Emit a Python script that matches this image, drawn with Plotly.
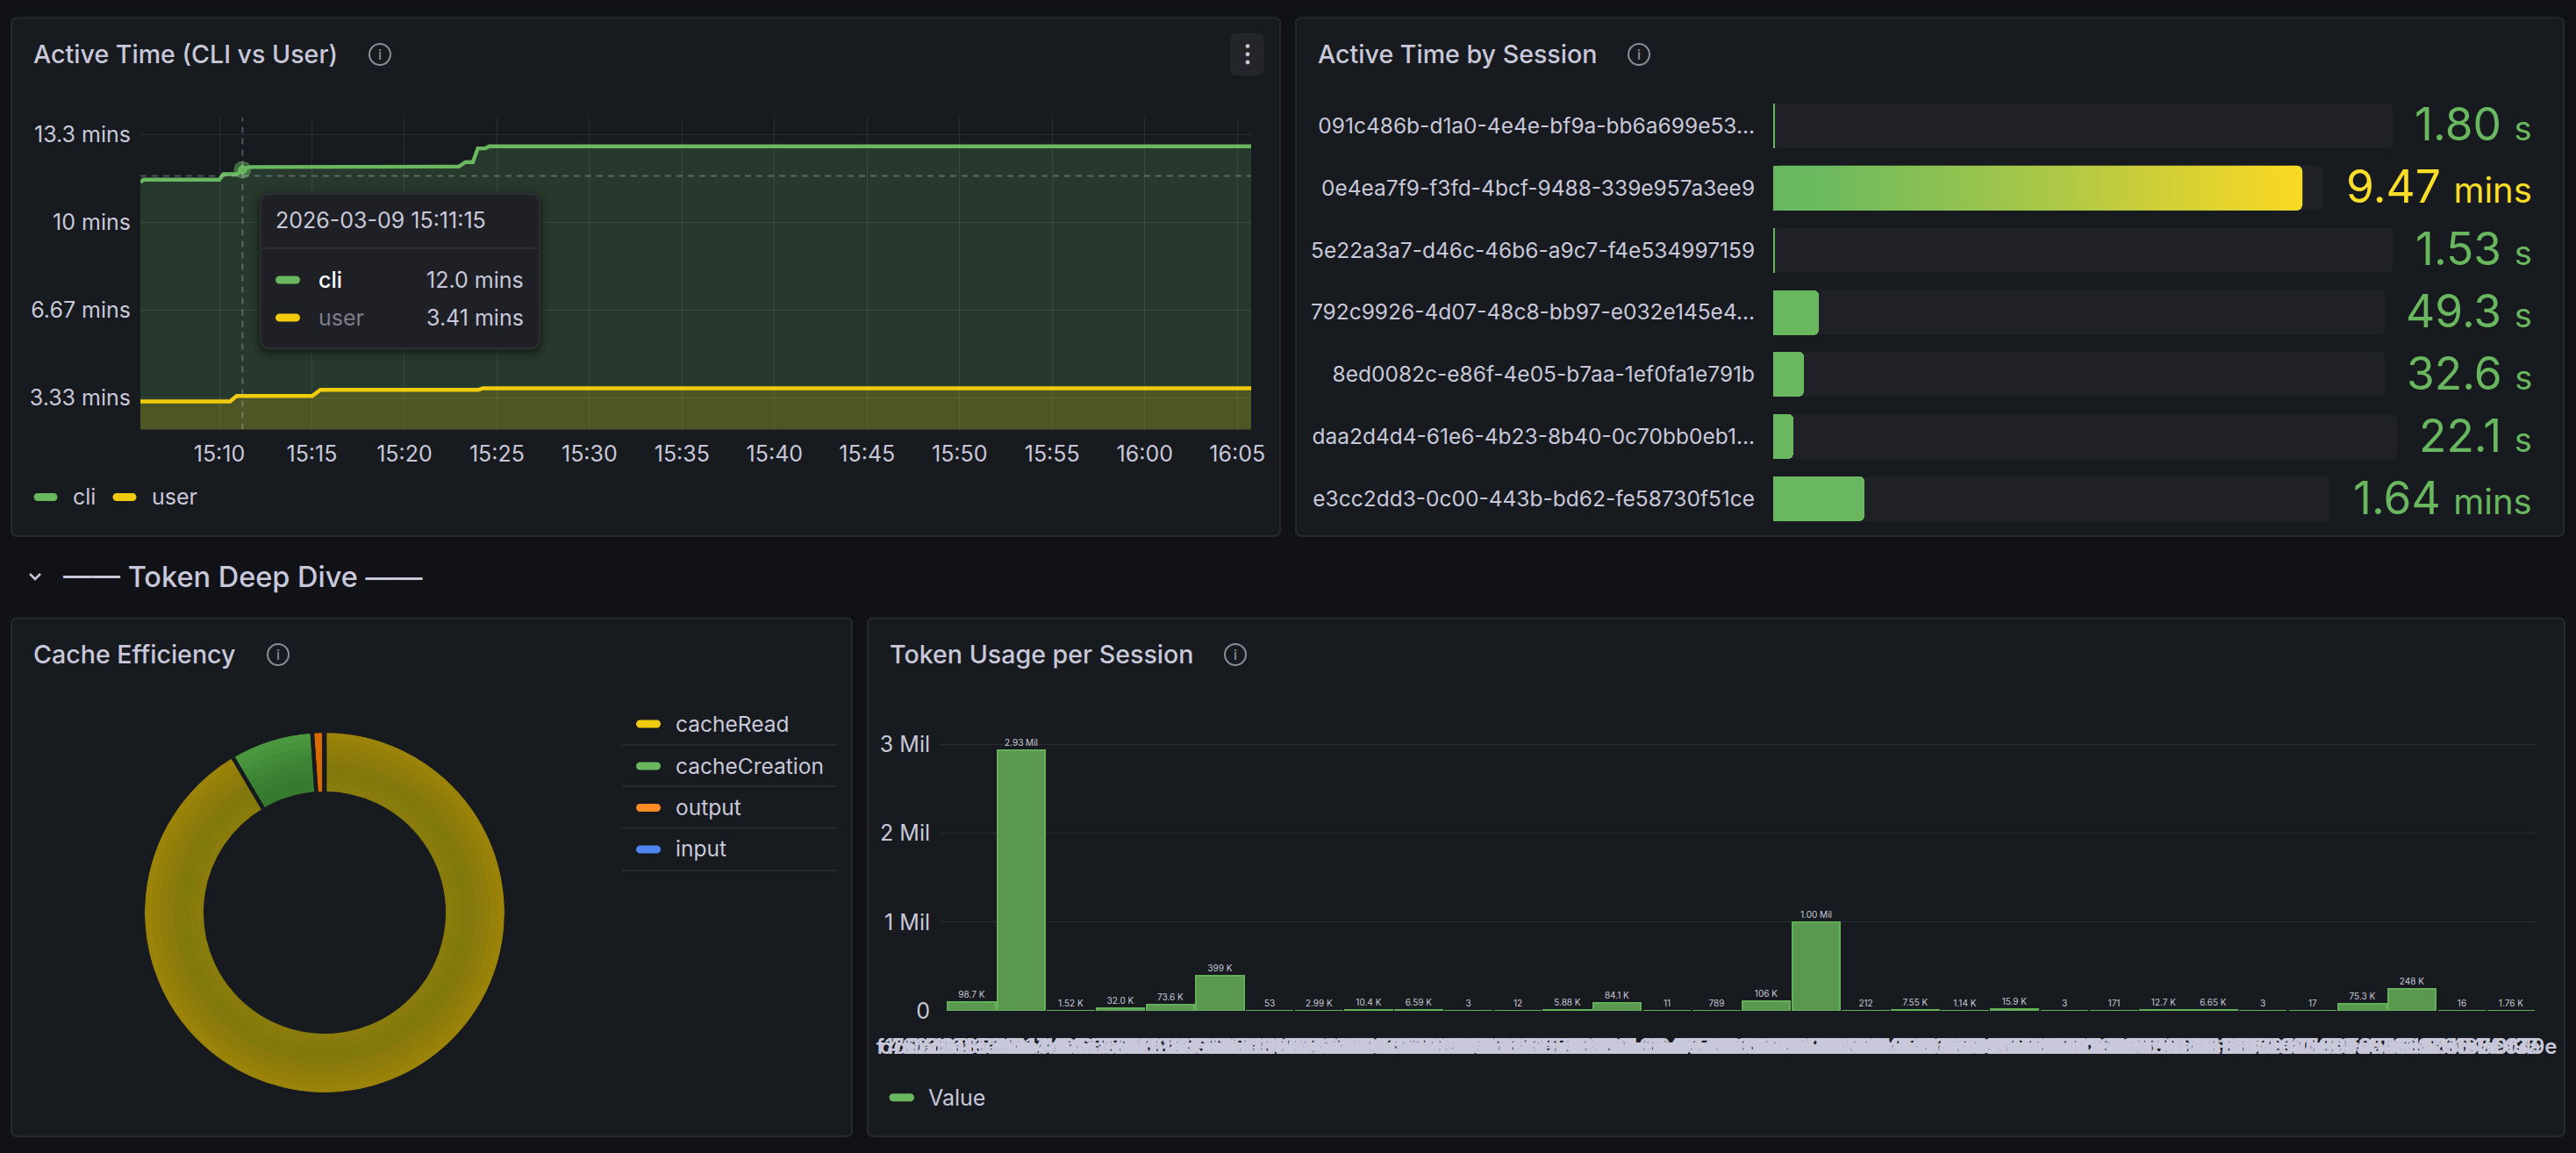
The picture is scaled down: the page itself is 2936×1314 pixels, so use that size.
import plotly.graph_objects as go

# ------------------------------ data ------------------------------
DAY = "2026-03-09 "
cli_times = ["15:05:44", "15:05:55", "15:10:00", "15:10:13", "15:10:56", "15:11:15", "15:11:36", "15:15:15",
             "15:15:28", "15:22:56", "15:23:18", "15:23:42", "15:23:58", "15:24:22", "15:24:35", "16:05:45"]
cli_mins = [11.53, 11.62, 11.62, 11.83, 11.83, 11.99, 12.10, 12.10,
            12.12, 12.12, 12.29, 12.29, 12.81, 12.81, 12.89, 12.89]
user_times = ["15:05:44", "15:10:35", "15:10:56", "15:15:01", "15:15:28", "15:24:00", "15:24:14", "16:05:45"]
user_mins = [3.20, 3.20, 3.41, 3.41, 3.64, 3.64, 3.70, 3.70]
hover_time = "15:11:15"
hover_cli = 12.0
hover_y_cross = 11.76
line_tick_vals = [3.3333, 6.6667, 10, 13.3333]
line_tick_text = ["3.33 mins", "6.67 mins", "10 mins", "13.3 mins"]

sessions = ["091c486b-d1a0-4e4e-bf9a-bb6a699e53...", "0e4ea7f9-f3fd-4bcf-9488-339e957a3ee9",
            "5e22a3a7-d46c-46b6-a9c7-f4e534997159", "792c9926-4d07-48c8-bb97-e032e145e4...",
            "8ed0082c-e86f-4e05-b7aa-1ef0fa1e791b", "daa2d4d4-61e6-4b23-8b40-0c70bb0eb1...",
            "e3cc2dd3-0c00-443b-bd62-fe58730f51ce"]
session_secs = [1.80, 568.2, 1.53, 49.3, 32.6, 22.1, 98.4]
session_nums = ["1.80", "9.47", "1.53", "49.3", "32.6", "22.1", "1.64"]
session_units = ["s", "mins", "s", "s", "s", "s", "mins"]

cache_labels = ["cacheRead", "cacheCreation", "output", "input"]
cache_values = [91.5, 7.4, 1.05, 0.05]

token_ids = ["f1c0a6e2-7d3b-4c", "4ab29c1e-90d7-4f6a-8b3", "c7e15d08-3b2a-49e1-a6f0-d27c8e41",
             "62d0f8b3-a14c-4e77-9c02-5b1e3fa8d706", "9f3ab7c4-52e8-4d10-b6a7-c18e04f2d935",
             "1de84a60-c97f-4b35-8e21-f06a7d3c4b18", "b05c7e91-28d6-4a03-97fb-3e61c0d8a254",
             "38fa61d2-e05b-47c8-a319-6dc2f7b0e814", "a2476cfe-11d9-4386-b05e-82f9a3d6c170",
             "7c9e03b5-f6a2-4d5e-8147-0ba6e2c9f3d1", "e618d4a7-3c80-4f29-96d3-b7105ef4a2c8",
             "05b3f29c-a7e1-4860-bd54-1f93c6a0e7d2", "d94c17e8-6b02-43fa-85c9-e2a07d1b6f34",
             "2fa08b6d-c415-4e97-a30e-7c68d1f5b920", "86e1d3c0-7f2a-4b64-91d8-03ea5c7f26b9",
             "c03f95a2-18ed-47b1-b62c-9d40f7a1e385", "5d7b2e46-a09c-4813-8fe7-2c16b4d09a7f",
             "f82a60c7-d3e5-49f6-a018-b5e37c2d9146", "17c4ea93-b650-4d2e-93f1-68a0d7e5c2b4",
             "a96d08f1-4e27-4c35-b8a6-f17d2053ce96", "3be5c712-09fa-46d8-87b3-d4e61a9f0c25",
             "78f1a4d6-c23e-4095-ae67-30b9d5f8c1e2", "e20d96b7-5a18-4f3c-92d0-c7e4a16b3f08",
             "4c83f05e-b7d1-42a9-8d36-1ea5f07c92b6", "b17e2ac9-6d04-4e58-a7c1-93f0d8b6e425",
             "69a3d8f0-1ce7-4b26-95fa-07d2c8e3b164", "d5f04c7b-82a9-4361-b0e8-f6a19d37c5",
             "0a92e6d1-f37c-4b80-a6d5-2c81e7f", "8c61b3fe-2d50-47a9-81e3-a0f7",
             "f47d09a5-e1b8-436c-97", "26eb81c4-9f3a", "b5c0d9e"]
token_values = [98700, 2930000, 1520, 32000, 73600, 399000, 53, 2990, 10400, 6590, 3, 12, 5880, 84100, 11, 789,
                106000, 1000000, 212, 7550, 1140, 15900, 3, 171, 12700, 6650, 3, 17, 75300, 248000, 16, 1760]
token_labels = ["98.7 K", "2.93 Mil", "1.52 K", "32.0 K", "73.6 K", "399 K", "53", "2.99 K", "10.4 K", "6.59 K",
                "3", "12", "5.88 K", "84.1 K", "11", "789", "106 K", "1.00 Mil", "212", "7.55 K", "1.14 K",
                "15.9 K", "3", "171", "12.7 K", "6.65 K", "3", "17", "75.3 K", "248 K", "16", "1.76 K"]
token_tick_vals = [0, 1000000, 2000000, 3000000]
token_tick_text = ["0", "1 Mil", "2 Mil", "3 Mil"]

# ------------------------------ style ------------------------------
W, H = 2936, 1314
FONT = "Inter"
PAGE = "#111217"
PANEL = "#171a1e"
BORDER = "#25282d"
TEXT = "#c8c8da"
GRID = "rgba(204,204,220,0.11)"
TRACK = "#1f2126"
GREEN = "#69b85f"
YELLOW = "#f2cc0c"
ORANGE = "#ff8b25"
BLUE = "#4f85f0"
TIP = "#1f2025"


def fx(x):
    return x / W


def fy(y):
    return 1 - y / H


def rr(x0, y0, x1, y1, r, fill, line=None, lw=0, layer="below"):
    k = 0.45 * r
    p = (f"M {fx(x0+r)} {fy(y0)} L {fx(x1-r)} {fy(y0)} C {fx(x1-k)} {fy(y0)} {fx(x1)} {fy(y0+k)} {fx(x1)} {fy(y0+r)} "
         f"L {fx(x1)} {fy(y1-r)} C {fx(x1)} {fy(y1-k)} {fx(x1-k)} {fy(y1)} {fx(x1-r)} {fy(y1)} "
         f"L {fx(x0+r)} {fy(y1)} C {fx(x0+k)} {fy(y1)} {fx(x0)} {fy(y1-k)} {fx(x0)} {fy(y1-r)} "
         f"L {fx(x0)} {fy(y0+r)} C {fx(x0)} {fy(y0+k)} {fx(x0+k)} {fy(y0)} {fx(x0+r)} {fy(y0)} Z")
    return dict(type="path", path=p, xref="paper", yref="paper", fillcolor=fill, layer=layer,
                line=dict(color=line or "rgba(0,0,0,0)", width=lw))


def hline(x0, x1, y, color, w=2, layer="below"):
    return dict(type="line", xref="paper", yref="paper", x0=fx(x0), x1=fx(x1), y0=fy(y), y1=fy(y), layer=layer,
                line=dict(color=color, width=w))


def circle(cx, cy, r, fill="rgba(0,0,0,0)", line=None, lw=0, layer="above"):
    return dict(type="circle", xref="paper", yref="paper", x0=fx(cx-r), x1=fx(cx+r), y0=fy(cy-r), y1=fy(cy+r),
                layer=layer, fillcolor=fill, line=dict(color=line or "rgba(0,0,0,0)", width=lw))


def txt(x, y, s, size, color=TEXT, anchor="left", weight=400):
    return dict(xref="paper", yref="paper", x=fx(x), y=fy(y), text=s, showarrow=False, xanchor=anchor,
                yanchor="middle", borderpad=0, font=dict(family=FONT, size=size, color=color, weight=weight))


def pill(x0, x1, y, color, layer="below"):
    return rr(x0, y-4.5, x1, y+4.5, 4.5, color, layer=layer)


shapes, annos = [], []

# page furniture
PANELS = [(13, 20.5, 1459, 611), (1477, 20.5, 2922, 611), (13, 704.5, 971, 1295), (989, 704.5, 2923, 1295)]
for x0, y0, x1, y1 in PANELS:
    shapes.append(rr(x0, y0, x1, y1, 6, PANEL, BORDER, 2))

TITLES = [(37, 61.5, "Active Time (CLI vs User)", 433), (1500.5, 61.5, "Active Time by Session", 1868),
          (37, 745.5, "Cache Efficiency", 317), (1013, 745.5, "Token Usage per Session", 1408)]
for x, y, s, ix in TITLES:
    annos.append(txt(x, y, s, 28.6, TEXT, weight=500))
    shapes.append(circle(ix, round(y + 0.5), 12, line="#8b8d96", lw=2))
    annos.append(txt(ix, y + 0.5, "i", 16, "#8b8d96", "center", 500))

# kebab button
shapes.append(rr(1402, 38, 1441, 86, 7, "#23252b"))
for dy in (52.6, 61.8, 71):
    shapes.append(circle(1422, dy, 2.4, fill=TEXT))

# section row
annos.append(txt(71, 657, "—— Token Deep Dive ——", 32.5, TEXT, weight=500))
shapes.append(dict(type="path", xref="paper", yref="paper", layer="below",
                   path=f"M {fx(34)} {fy(654)} L {fx(40)} {fy(660)} L {fx(46)} {fy(654)}",
                   line=dict(color=TEXT, width=2.5)))

fig = go.Figure()

# ------------------------------ Active time lines ------------------------------
cli_x = [DAY + t for t in cli_times]
user_x = [DAY + t for t in user_times]
fig.add_trace(go.Scatter(x=cli_x, y=cli_mins, mode="lines", line=dict(color=GREEN, width=4.4), fill="tozeroy",
                         fillcolor="rgba(105,184,98,0.2)", xaxis="x", yaxis="y", showlegend=False))
fig.add_trace(go.Scatter(x=user_x, y=user_mins, mode="lines", line=dict(color=YELLOW, width=4.4), fill="tozeroy",
                         fillcolor="rgba(242,204,12,0.2)", xaxis="x", yaxis="y", showlegend=False))
fig.add_trace(go.Scatter(x=[DAY + hover_time], y=[hover_cli], mode="markers", xaxis="x", yaxis="y", showlegend=False,
                         marker=dict(size=20, color="rgba(105,184,98,0.5)", line=dict(width=0))))
fig.add_trace(go.Scatter(x=[DAY + hover_time], y=[hover_cli], mode="markers", xaxis="x", yaxis="y", showlegend=False,
                         marker=dict(size=10, color=GREEN, line=dict(width=0))))
X0_RANGE = [DAY + "15:05:44", DAY + "16:05:45"]
Y0_RANGE = [2.133, 13.98]
DASH = dict(color="rgba(204,204,220,0.32)", width=2, dash="7px,6px")
shapes.append(dict(type="line", xref="x", yref="y", x0=DAY + hover_time, x1=DAY + hover_time,
                   y0=Y0_RANGE[0], y1=Y0_RANGE[1], line=DASH, layer="above"))
shapes.append(dict(type="line", xref="x", yref="y", x0=X0_RANGE[0], x1=X0_RANGE[1],
                   y0=hover_y_cross, y1=hover_y_cross, line=DASH, layer="above"))

# legend
shapes.append(pill(38.5, 65.5, 566.6, GREEN))
annos.append(txt(81.5, 566, "cli", 25))
shapes.append(pill(128.5, 155.5, 566.6, YELLOW))
annos.append(txt(171.5, 566, "user", 25))

# tooltip
for grow, alpha in ((10, 0.05), (7, 0.07), (4, 0.10), (2, 0.14)):
    shapes.append(rr(297-grow, 221-grow+3, 615+grow, 397+grow+3, 10+grow, f"rgba(0,0,0,{alpha})", layer="above"))
shapes.append(rr(297, 221, 615, 397, 10, TIP, "#2c2e35", 2, layer="above"))
shapes.append(hline(298, 614, 283, "#2c2e35", 2, layer="above"))
annos.append(txt(313, 251.5, "2026-03-09 15:11:15", 25))
shapes.append(pill(314, 342, 319, GREEN, layer="above"))
annos.append(txt(362, 319, "cli", 25, "#ffffff", weight=500))
annos.append(txt(597.5, 319, "12.0 mins", 25, TEXT, "right"))
shapes.append(pill(314, 342, 362, YELLOW, layer="above"))
annos.append(txt(362, 362, "user", 25, "#7d7e89"))
annos.append(txt(597.5, 362, "3.41 mins", 25, TEXT, "right"))

# ------------------------------ Active time by session ------------------------------
ROW0, PITCH = 143.3, 70.87
BAR_H = 51
TRACK_ENDS = [2727.5, 2648, 2727.5, 2718, 2718, 2732, 2655]
BAR_LEFT, BAR_RIGHT, PX_PER_SEC = 2021, 2890, 1.0616
x2_max = (BAR_RIGHT - BAR_LEFT) / PX_PER_SEC
rows = list(range(len(sessions)))
for i, end in zip(rows, TRACK_ENDS):
    c = ROW0 + i * PITCH
    shapes.append(rr(BAR_LEFT, c - BAR_H/2, end, c + BAR_H/2, 6, TRACK))
fig.add_trace(go.Bar(y=rows, x=session_secs, orientation="h", width=BAR_H/PITCH, xaxis="x2", yaxis="y2",
                     marker=dict(color=GREEN, line=dict(width=0), cornerradius=6), showlegend=False))


def rounded_bar(v, row):
    rx, ry = 6 / PX_PER_SEC, 6 / PITCH
    h = BAR_H / PITCH / 2
    t, b = row - h, row + h
    return ([0, rx*0.3, rx, v-rx, v-rx*0.3, v, v, v-rx*0.3, v-rx, rx, rx*0.3, 0, 0],
            [t+ry, t+ry*0.3, t, t, t+ry*0.3, t+ry, b-ry, b-ry*0.3, b, b, b-ry*0.3, b-ry, t+ry])


gx, gy = rounded_bar(session_secs[1], rows[1])
fig.add_trace(go.Scatter(x=gx, y=gy, mode="lines", line=dict(width=0), fill="toself", xaxis="x2", yaxis="y2",
                         showlegend=False,
                         fillgradient=dict(type="horizontal",
                                           colorscale=[[0, "#66b860"], [0.1, "#6cba5e"], [0.55, "#b0c845"],
                                                       [0.95, "#f4d726"], [1, "#f8da24"]])))
for i, (n, u) in enumerate(zip(session_nums, session_units)):
    col = "#fade2a" if i == 1 else GREEN
    usize = 40 if u == "mins" else 38
    annos.append(txt(2887, ROW0 - 2 + i * PITCH, f'{n} <span style="font-size:{usize}px">{u}</span>', 51.5, col, "right"))

# ------------------------------ Cache efficiency donut ------------------------------
CX, CY, RO, RI = 370, 1040, 205, 138
RING_COLORS = [
    ("#9b8209", "#4b973f"), ("#96800a", "#47923c"), ("#8f7d0b", "#438c39"), ("#8a7b0c", "#3f8736"),
    ("#84790c", "#3c8234"), ("#82790c", "#397e31"), ("#857a0c", "#377b30"), ("#897c0c", "#367a2f"),
]
n_rings = len(RING_COLORS)
for k, (cy_col, cg_col) in enumerate(RING_COLORS):
    r_out = RO - (RO - RI) * k / n_rings
    r_in = RO - (RO - RI) * (k + 1) / n_rings
    fig.add_trace(go.Pie(labels=cache_labels, values=cache_values, sort=False, direction="clockwise", rotation=0,
                         hole=(r_in - 0.6) / r_out, textinfo="none", showlegend=False,
                         marker=dict(colors=[cy_col, cg_col, "#d96a04", "#3f6fd0"], line=dict(width=0)),
                         domain=dict(x=[fx(CX - r_out), fx(CX + r_out)], y=[fy(CY + r_out), fy(CY - r_out)])))
GAP = 2.2
fig.add_trace(go.Pie(labels=cache_labels, values=cache_values, sort=False, direction="clockwise", rotation=0,
                     hole=(RI - GAP) / (RO + GAP), textinfo="none", showlegend=False,
                     marker=dict(colors=["rgba(0,0,0,0)"] * 4, line=dict(color=PANEL, width=GAP * 2)),
                     domain=dict(x=[fx(CX - RO - GAP), fx(CX + RO + GAP)], y=[fy(CY + RO + GAP), fy(CY - RO - GAP)])))
legend_cols = [YELLOW, GREEN, ORANGE, BLUE]
for i, (lab, col) in enumerate(zip(cache_labels, legend_cols)):
    yc = [825, 873, 920.6, 968][i]
    shapes.append(pill(725, 753, yc, col))
    annos.append(txt(768.5, yc - 0.5, lab, 24.5))
    shapes.append(hline(709, 954, [849, 896, 943.6, 992][i], "#26292e", 2))

# ------------------------------ Token usage ------------------------------
idx = list(range(len(token_ids)))
fig.add_trace(go.Bar(x=idx, y=token_values, width=0.96, xaxis="x3", yaxis="y3", showlegend=False,
                     marker=dict(color="#5a9850", line=dict(color="#64b05a", width=2)),
                     text=token_labels, textposition="outside", cliponaxis=False, constraintext="none", textangle=0,
                     textfont=dict(family=FONT, size=10, color=TEXT)))
shapes.append(pill(1013.5, 1042, 1250.7, GREEN))
annos.append(txt(1057, 1250.5, "Value", 25))

# ------------------------------ layout ------------------------------
tick_font = dict(family=FONT, size=25, color=TEXT)
HIDE = "rgba(0,0,0,0)"
fig.update_layout(
    width=W, height=H, margin=dict(l=0, r=0, t=0, b=0), paper_bgcolor=PAGE, plot_bgcolor="rgba(0,0,0,0)",
    font=dict(family=FONT, color=TEXT), hovermode=False, shapes=shapes, annotations=annos,
    bargap=0,
    xaxis=dict(domain=[fx(160), fx(1426)], range=X0_RANGE, type="date", anchor="y", tick0=DAY + "15:10:00", dtick=300000,
               tickformat="%H:%M", tickfont=tick_font, gridcolor=GRID, gridwidth=1, showline=False, zeroline=False,
               ticks="outside", ticklen=5, tickcolor=HIDE, automargin=False),
    yaxis=dict(domain=[fy(489.5), fy(134)], range=Y0_RANGE, anchor="x", tickvals=line_tick_vals, ticktext=line_tick_text,
               tickfont=tick_font, gridcolor=GRID, gridwidth=1, showline=False, zeroline=False,
               ticks="outside", ticklen=5, tickcolor=HIDE, automargin=False),
    xaxis2=dict(domain=[fx(BAR_LEFT), fx(BAR_RIGHT)], range=[0, x2_max], anchor="y2", visible=False, automargin=False),
    yaxis2=dict(domain=[fy(ROW0 + 6.5 * PITCH), fy(ROW0 - 0.5 * PITCH)], range=[6.5, -0.5], anchor="x2",
                tickvals=rows, ticktext=sessions, tickfont=dict(family=FONT, size=24.5, color=TEXT),
                showgrid=False, zeroline=False, showline=False, ticks="outside", ticklen=15, tickcolor=HIDE,
                automargin=False),
    xaxis3=dict(domain=[fx(1072), fx(2890.6)], range=[-0.624, 31.5], anchor="y3", tickvals=idx, ticktext=token_ids,
                tickangle=0, tickfont=dict(family=FONT, size=24, color=TEXT, weight=600), showgrid=False, zeroline=False,
                showline=False, ticks="outside", ticklen=19, tickcolor=HIDE, ticklabeloverflow="allow",
                automargin=False),
    yaxis3=dict(domain=[fy(1152), fy(820)], range=[0, 3280000], anchor="x3", tickvals=token_tick_vals,
                ticktext=token_tick_text, tickfont=dict(family=FONT, size=25, color=TEXT), gridcolor=GRID, gridwidth=1,
                zeroline=False, showline=False, ticks="outside", ticklen=6, tickcolor=HIDE, automargin=False),
)

fig.write_html("out.html", config={"displayModeBar": False},
               post_script="document.body.style.margin='0';document.body.style.background='#111217';")
